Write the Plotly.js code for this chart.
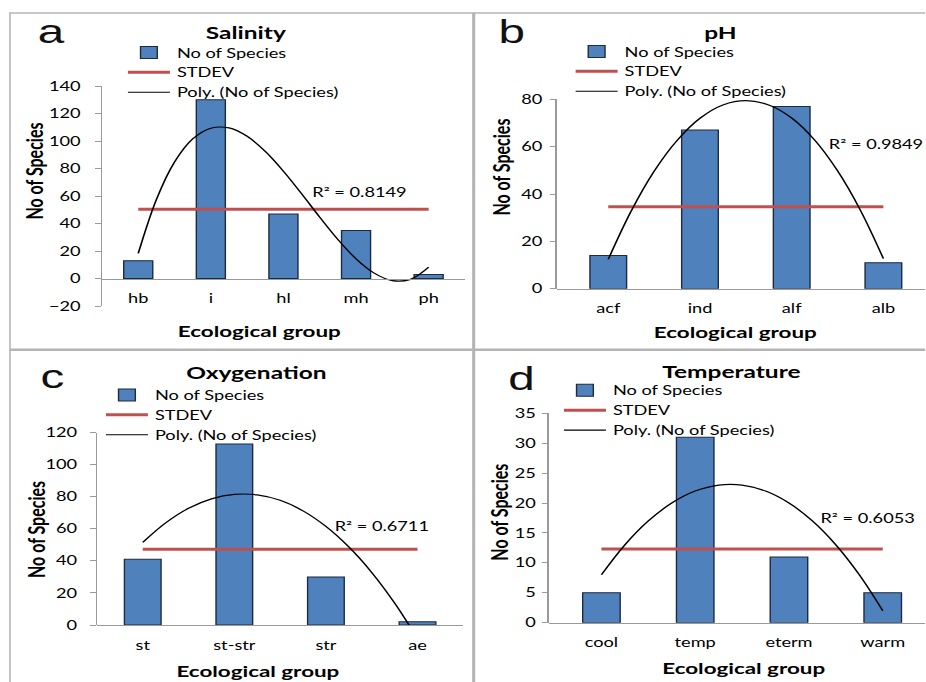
<!DOCTYPE html>
<html><head><meta charset="utf-8">
<script src="https://cdn.plot.ly/plotly-3.0.1.min.js"></script>
<style>
html,body{margin:0;padding:0;overflow:hidden;background:#fff;}
#chart{width:661.43px;height:682px;transform:scaleX(1.4);transform-origin:0 0;}
</style></head><body><div id="chart"></div>
<script>
// ---------------- data ----------------
const salinityGroups  = ['hb', 'i', 'hl', 'mh', 'ph'];
const salinitySpecies = [13, 130, 47, 35, 3];
const salinityStdev   = 50.3;
// polynomial trend line, read at quarter-category steps
const salinityPoly    = [18.2, 57.4, 84.7, 101.5, 109.3, 109.5, 103.4, 92.4, 78.0, 61.6, 44.6, 28.4, 14.3, 3.9, -1.6, -0.6, 8.2];
const salinityR2      = 'R² = 0.8149';

const phGroups  = ['acf', 'ind', 'alf', 'alb'];
const phSpecies = [14, 67, 77, 11];
const phStdev   = 34.6;
const phPoly    = [12.4, 32.8, 49.6, 62.6, 72.0, 77.6, 79.4, 77.6, 72.1, 62.8, 49.8, 33.1, 12.7];
const phR2      = 'R² = 0.9849';

const oxyGroups  = ['st', 'st-str', 'str', 'ae'];
const oxySpecies = [41, 113, 30, 2];
const oxyStdev   = 47.3;
const oxyPoly    = [51.5, 63.7, 72.8, 78.7, 81.5, 81.2, 77.8, 71.2, 61.5, 48.7, 32.8, 13.7, -8.5];
const oxyR2      = 'R² = 0.6711';

const tempGroups  = ['cool', 'temp', 'eterm', 'warm'];
const tempSpecies = [5, 31, 11, 5];
const tempStdev   = 12.3;
const tempPoly    = [8, 13, 17, 20, 22, 23, 23, 22, 20, 17, 13, 8, 2];
const tempR2      = 'R² = 0.6053';

const seriesNames = ['No of Species', 'STDEV', 'Poly. (No of Species)'];
const panelTitles = ['Salinity', 'pH', 'Oxygenation', 'Temperature'];
const panelLetters = ['a', 'b', 'c', 'd'];
const xAxisTitle = 'Ecological group';
const yAxisTitle = 'No of Species';

// ---------------- styling / layout ----------------
const W = 926, H = 682, S = 1.4;
const FONT = 'Lato, "Open Sans", sans-serif';
const TXT = '#000';
const AX = '#9a9a9a';
const px = v => v / W;
const py = v => 1 - v / H;

const panels = [
  {groups: salinityGroups, vals: salinitySpecies, sd: salinityStdev, poly: salinityPoly, r2: salinityR2,
   xd: [102, 465.25], xr: [-0.5, 4.5], yd: [306, 86], yr: [-20, 140], dtick: 20,
   ystand: 8, xstand: 8, title: [247, 33], letter: [51, 31], xt: [259.3, 330], yt: [33, 171], r2p: [359, 192.3],
   leg: [121, 37.5]},
  {groups: phGroups, vals: phSpecies, sd: phStdev, poly: phPoly, r2: phR2,
   xd: [557, 926], xr: [-0.563, 3.458], yd: [288.7, 99.3], yr: [0, 80], dtick: 20,
   ystand: 3, xstand: 8, title: [720.7, 33], letter: [512.5, 31], xt: [735.7, 331.7], yt: [501.7, 167.5], r2p: [876.7, 144.3],
   leg: [569, 36.5]},
  {groups: oxyGroups, vals: oxySpecies, sd: oxyStdev, poly: oxyPoly, r2: oxyR2,
   xd: [97, 463.6], xr: [-0.5, 3.5], yd: [625, 432.7], yr: [0, 120], dtick: 20,
   ystand: 7, xstand: 8, title: [256.7, 372.7], letter: [52.5, 376], xt: [258.3, 670], yt: [35, 529], r2p: [382, 526],
   leg: [99, 380]},
  {groups: tempGroups, vals: tempSpecies, sd: tempStdev, poly: tempPoly, r2: tempR2,
   xd: [549, 926], xr: [-0.563, 3.455], yd: [622.7, 413.3], yr: [0, 35], dtick: 5,
   ystand: 2, xstand: 8, title: [731.7, 371], letter: [522.5, 378], xt: [744, 667.7], yt: [498.3, 512], r2p: [867.5, 517.7],
   leg: [557.3, 375.3]}
];

const data = [];
const layout = {
  width: W / S, height: H, autosize: false,
  margin: {l: 0, r: 0, t: 0, b: 0, pad: 0},
  paper_bgcolor: '#fff', plot_bgcolor: 'rgba(0,0,0,0)',
  font: {family: FONT, color: TXT, size: 13},
  showlegend: true, hovermode: false,
  annotations: [], shapes: []
};

panels.forEach((p, k) => {
  const n = k + 1;
  const xa = 'x' + (n === 1 ? '' : n), ya = 'y' + (n === 1 ? '' : n);
  const xKey = 'xaxis' + (n === 1 ? '' : n), yKey = 'yaxis' + (n === 1 ? '' : n);
  const legKey = 'legend' + (n === 1 ? '' : n);
  const idx = p.groups.map((_, i) => i);
  const steps = p.poly.map((_, i) => i * 0.25);

  data.push({
    type: 'bar', name: seriesNames[0], x: idx, y: p.vals, width: 0.4,
    marker: {color: '#4F81BD', line: {color: '#1c2b40', width: 1}},
    xaxis: xa, yaxis: ya, legend: legKey, hoverinfo: 'skip'
  });
  data.push({
    type: 'scatter', mode: 'lines', name: seriesNames[1],
    x: [idx[0], idx[idx.length - 1]], y: [p.sd, p.sd],
    line: {color: '#C0504D', width: 3},
    xaxis: xa, yaxis: ya, legend: legKey, hoverinfo: 'skip'
  });
  data.push({
    type: 'scatter', mode: 'lines', name: seriesNames[2],
    x: steps, y: p.poly,
    line: {color: '#000', width: 1.2, shape: 'spline', smoothing: 1},
    xaxis: xa, yaxis: ya, legend: legKey, hoverinfo: 'skip'
  });

  const ydB = py(p.yd[0]), ydT = py(p.yd[1]);
  const zeroPos = ydB + (0 - p.yr[0]) / (p.yr[1] - p.yr[0]) * (ydT - ydB);

  layout[xKey] = {
    domain: [px(p.xd[0]), px(p.xd[1])], range: p.xr,
    tickmode: 'array', tickvals: idx, ticktext: p.groups,
    showline: true, linecolor: AX, linewidth: 1.2, ticks: '',
    showgrid: false, zeroline: false, anchor: 'free', position: zeroPos,
    tickfont: {family: FONT, size: 13, color: TXT}, ticklabelstandoff: p.xstand,
    fixedrange: true
  };
  layout[yKey] = {
    domain: [ydB, ydT], range: p.yr, tick0: 0, dtick: p.dtick,
    showline: true, linecolor: AX, linewidth: 1, ticks: 'outside', ticklen: 3.6,
    tickcolor: AX, tickwidth: 1, showgrid: false, zeroline: false,
    anchor: xa, tickfont: {family: FONT, size: 13, color: TXT},
    ticklabelstandoff: p.ystand, fixedrange: true
  };
  layout[legKey] = {
    x: px(p.leg[0]), y: py(p.leg[1]), xanchor: 'left', yanchor: 'top',
    bgcolor: 'rgba(0,0,0,0)', borderwidth: 0, itemwidth: 30, traceorder: 'normal',
    font: {family: FONT, size: 13, color: TXT}, itemclick: false, itemdoubleclick: false
  };

  layout.annotations.push(
    {text: '<b>' + panelTitles[k] + '</b>', xref: 'paper', yref: 'paper', x: px(p.title[0]), y: py(p.title[1]),
     xanchor: 'center', yanchor: 'middle', showarrow: false, font: {family: FONT, size: 17.5, color: TXT}},
    {text: panelLetters[k], xref: 'paper', yref: 'paper', x: px(p.letter[0]), y: py(p.letter[1]),
     xanchor: 'center', yanchor: 'middle', showarrow: false, font: {family: '"Liberation Sans", Arial, sans-serif', size: 34, color: '#111'}},
    {text: '<b>' + xAxisTitle + '</b>', xref: 'paper', yref: 'paper', x: px(p.xt[0]), y: py(p.xt[1]),
     xanchor: 'center', yanchor: 'middle', showarrow: false, font: {family: FONT, size: 16, color: TXT}},
    {text: '<b>' + yAxisTitle + '</b>', xref: 'paper', yref: 'paper', x: px(p.yt[0]), y: py(p.yt[1]), textangle: -90,
     xanchor: 'center', yanchor: 'middle', showarrow: false, font: {family: FONT, size: 16, color: TXT}},
    {text: p.r2, xref: 'paper', yref: 'paper', x: px(p.r2p[0]), y: py(p.r2p[1]),
     xanchor: 'center', yanchor: 'middle', showarrow: false, font: {family: FONT, size: 13, color: TXT}}
  );
});

// panel frames
const FR = '#b4b4b4';
layout.shapes.push(
  {type: 'line', xref: 'paper', yref: 'paper', x0: px(9), x1: 1, y0: py(13), y1: py(13), line: {color: FR, width: 1.5}},
  {type: 'line', xref: 'paper', yref: 'paper', x0: px(10), x1: px(10), y0: py(13), y1: 0, line: {color: FR, width: 1.1}},
  {type: 'line', xref: 'paper', yref: 'paper', x0: px(474), x1: px(474), y0: py(13), y1: 0, line: {color: FR, width: 2.2}},
  {type: 'line', xref: 'paper', yref: 'paper', x0: px(10), x1: 1, y0: py(349.8), y1: py(349.8), line: {color: FR, width: 2.5}}
);

Plotly.newPlot('chart', data, layout, {displayModeBar: false, staticPlot: true});
</script></body></html>
